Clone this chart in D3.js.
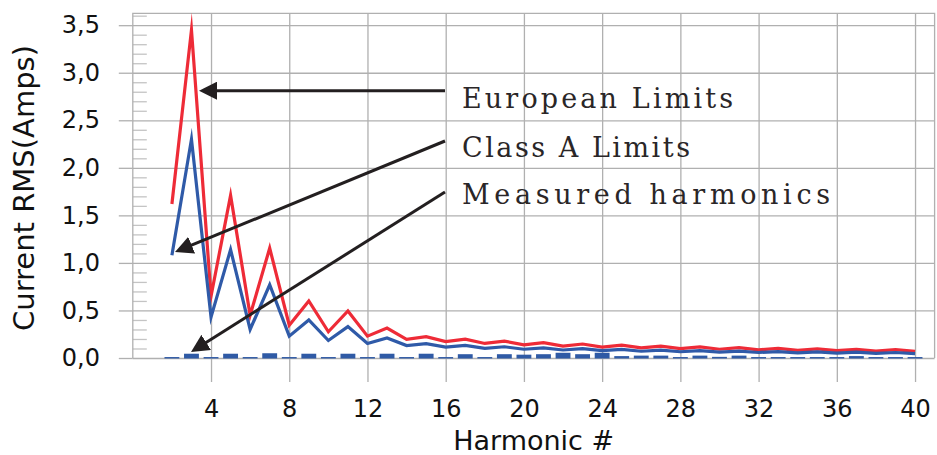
<!DOCTYPE html>
<html>
<head>
<meta charset="utf-8">
<script src="https://cdn.jsdelivr.net/npm/d3@7"></script>
<style>
  html, body { margin: 0; padding: 0; background: #fff; }
  svg { display: block; }
</style>
</head>
<body>
<div id="chart"></div>
<script>
// Dados
const harmonics = d3.range(2, 41);

const europeanLimits = [1.62, 3.45, 0.65, 1.71, 0.45, 1.155, 0.345, 0.60, 0.276, 0.495,
  0.23, 0.315, 0.197, 0.225, 0.173, 0.199, 0.153, 0.178, 0.138, 0.161,
  0.125, 0.147, 0.115, 0.135, 0.106, 0.125, 0.099, 0.116, 0.092, 0.109,
  0.086, 0.102, 0.081, 0.096, 0.077, 0.091, 0.073, 0.087, 0.069];

const classALimits = [1.08, 2.30, 0.43, 1.14, 0.30, 0.77, 0.23, 0.40, 0.184, 0.33,
  0.153, 0.21, 0.131, 0.15, 0.115, 0.132, 0.102, 0.118, 0.092, 0.107,
  0.084, 0.098, 0.077, 0.09, 0.071, 0.083, 0.066, 0.078, 0.061, 0.073,
  0.058, 0.068, 0.054, 0.064, 0.051, 0.061, 0.048, 0.058, 0.046];

const measured = [0.01, 0.045, 0.01, 0.045, 0.01, 0.05, 0.01, 0.045, 0.01, 0.045,
  0.01, 0.045, 0.01, 0.045, 0.01, 0.04, 0.01, 0.04, 0.035, 0.04,
  0.055, 0.04, 0.055, 0.02, 0.025, 0.025, 0.01, 0.025, 0.012, 0.025,
  0.01, 0.01, 0.01, 0.01, 0.01, 0.02, 0.01, 0.01, 0.01];

const xTicks = [4, 8, 12, 16, 20, 24, 28, 32, 36, 40];
const yTicks = [0, 0.5, 1.0, 1.5, 2.0, 2.5, 3.0, 3.5];
const yMinorTicks = d3.range(1, 37).map(d => d / 10).filter(d => d * 10 % 5 !== 0);

const labels = ["European Limits", "Class A Limits", "Measured harmonics"];

// Layout
const W = 937, H = 455;
const margin = { top: 13.3, left: 132.8, right: 2.4, bottom: 97 };
const width = W - margin.left - margin.right;
const height = H - margin.top - margin.bottom;

const svg = d3.select("#chart").append("svg")
    .attr("width", W)
    .attr("height", H);

const defs = svg.append("defs");
defs.append("marker")
    .attr("id", "head")
    .attr("markerUnits", "userSpaceOnUse")
    .attr("viewBox", "0 0 18 18")
    .attr("markerWidth", 18)
    .attr("markerHeight", 18)
    .attr("refX", 10)
    .attr("refY", 9)
    .attr("orient", "auto")
  .append("path")
    .attr("d", "M0,0L18,9L0,18Z")
    .attr("fill", "#231f20");

const g = svg.append("g")
    .attr("transform", `translate(${margin.left},${margin.top})`);

// Escalas
const x = d3.scaleLinear().domain([0, 41]).range([0, width]);
const y = d3.scaleLinear().domain([0, 3.625]).range([height, 0]);

const gridColor = "#b0b0b0";
const fmt = d => d3.format(".1f")(d).replace(".", ",");

// Grade horizontal
g.append("g")
    .call(d3.axisLeft(y).tickValues(yTicks).tickSize(-width).tickFormat(""))
    .call(a => a.select(".domain").remove())
    .call(a => a.selectAll("line").attr("stroke", gridColor).attr("stroke-width", 1.3));

// Grade vertical
g.append("g")
    .attr("transform", `translate(0,${height})`)
    .call(d3.axisBottom(x).tickValues(xTicks).tickSize(-height).tickFormat(""))
    .call(a => a.select(".domain").remove())
    .call(a => a.selectAll("line").attr("stroke", gridColor).attr("stroke-width", 1.3));

// Marcas secundárias
g.append("g")
    .call(d3.axisRight(y).tickValues(yMinorTicks).tickSize(14).tickFormat(""))
    .call(a => a.select(".domain").remove())
    .call(a => a.selectAll("line").attr("stroke", "#c4c4c4").attr("stroke-width", 1.3));

// Eixo Y
g.append("g")
    .call(d3.axisLeft(y).tickValues(yTicks).tickSize(14).tickPadding(18.8).tickFormat(fmt))
    .call(a => a.select(".domain").remove())
    .call(a => a.selectAll("line").attr("stroke", gridColor).attr("stroke-width", 1.3))
    .call(a => a.selectAll("text")
        .attr("fill", "#111")
        .style("font-family", "DejaVu Sans")
        .style("font-size", "24px"));

// Eixo X
g.append("g")
    .attr("transform", `translate(0,${height})`)
    .call(d3.axisBottom(x).tickValues(xTicks).tickSize(24).tickPadding(18))
    .call(a => a.select(".domain").remove())
    .call(a => a.selectAll("line").attr("stroke", gridColor).attr("stroke-width", 1.3))
    .call(a => a.selectAll("text")
        .attr("fill", "#111")
        .style("font-family", "DejaVu Sans")
        .style("font-size", "24px"));

// Moldura
g.append("path")
    .attr("d", `M0,${height}V0H${width}V${height}`)
    .attr("fill", "none")
    .attr("stroke", gridColor)
    .attr("stroke-width", 1.3);

// Harmônicos medidos
const step = x(1) - x(0);
g.selectAll("rect.measured")
    .data(harmonics.map((h, i) => [h, measured[i]]))
    .enter()
    .append("rect")
    .attr("class", "measured")
    .attr("x", d => x(d[0]) - step * 0.38)
    .attr("width", step * 0.76)
    .attr("y", d => y(d[1]))
    .attr("height", d => height - y(d[1]) + 0.5)
    .attr("fill", "#2f5aa5");

// Linhas de limite
const line = d3.line().x(d => x(d[0])).y(d => y(d[1]));

g.append("path")
    .datum(harmonics.map((h, i) => [h, europeanLimits[i]]))
    .attr("d", line)
    .attr("fill", "none")
    .attr("stroke", "#ee2b37")
    .attr("stroke-width", 3.2)
    .attr("stroke-linejoin", "miter")
    .attr("stroke-miterlimit", 20);

g.append("path")
    .datum(harmonics.map((h, i) => [h, classALimits[i]]))
    .attr("d", line)
    .attr("fill", "none")
    .attr("stroke", "#2f5aa8")
    .attr("stroke-width", 3.2)
    .attr("stroke-linejoin", "miter")
    .attr("stroke-miterlimit", 20);

// Anotações
const ann = svg.append("g");
const annBase = [108, 157, 204];
const annLength = [271, 228, 368];
const arrowStart = [[445, 90.7], [445, 141], [445, 192]];
const arrowTip = [[199, 90.7], [175, 252], [191, 352]];

arrowStart.forEach((s, i) => {
  const t = arrowTip[i];
  const dx = t[0] - s[0], dy = t[1] - s[1];
  const len = Math.hypot(dx, dy);
  ann.append("line")
      .attr("x1", s[0]).attr("y1", s[1])
      .attr("x2", t[0] - dx / len * 8).attr("y2", t[1] - dy / len * 8)
      .attr("stroke", "#231f20")
      .attr("stroke-width", 3)
      .attr("marker-end", "url(#head)");
});

ann.selectAll("text")
    .data(labels)
    .enter()
    .append("text")
    .attr("x", 462)
    .attr("y", (d, i) => annBase[i])
    .attr("textLength", (d, i) => annLength[i])
    .attr("lengthAdjust", "spacing")
    .attr("fill", "#2a2627")
    .style("font-family", "DejaVu Serif")
    .style("font-size", "27px")
    .text(d => d);

// Títulos dos eixos
svg.append("text")
    .attr("x", margin.left + width / 2)
    .attr("y", 450)
    .attr("text-anchor", "middle")
    .attr("fill", "#111")
    .style("font-family", "DejaVu Sans")
    .style("font-size", "27px")
    .text("Harmonic #");

svg.append("text")
    .attr("transform", "translate(34,188) rotate(-90)")
    .attr("text-anchor", "middle")
    .attr("fill", "#111")
    .style("font-family", "DejaVu Sans")
    .style("font-size", "29px")
    .text("Current RMS(Amps)");
</script>
</body>
</html>
